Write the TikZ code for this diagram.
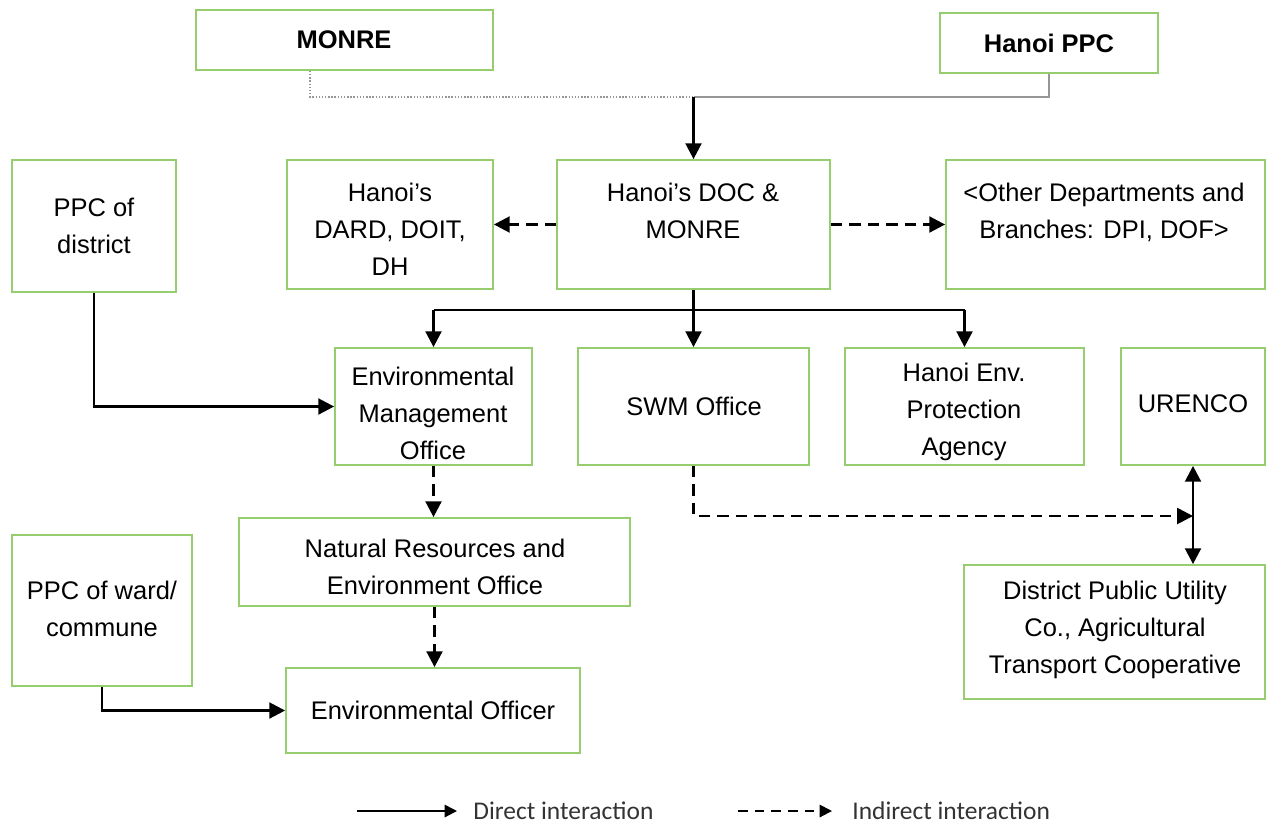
\documentclass[tikz,border=0pt]{standalone}
\usepackage{fontspec}
\setmainfont{Liberation Sans}
\newfontfamily\legendfont{Carlito}
\usetikzlibrary{arrows.meta,fit,calc}

\definecolor{boxgreen}{RGB}{150,205,110}
\definecolor{linkgray}{RGB}{150,150,150}

\begin{document}
\begin{tikzpicture}[
  x=0.02cm, y=-0.02cm,
  box/.style={draw=boxgreen,line width=1pt,inner sep=0pt,fit={#1}},
  txt/.style={align=center,inner sep=0pt,font=\fontsize{14.5}{21}\selectfont},
  head/.style={txt,font=\fontsize{14.5}{21}\selectfont\bfseries},
  lgd/.style={anchor=west,inner sep=0pt,text=black!80,font=\legendfont\fontsize{14.5}{18}\selectfont},
  direct/.style={line width=1.5pt,-{Triangle[length=9pt,width=9pt]}},
  indirect/.style={direct,dash pattern=on 6.5pt off 4pt},
  lgdline/.style={line width=1.1pt,-{Triangle[length=7pt,width=7pt]}},
  feed/.style={line width=0.8pt}
  ]
\useasboundingbox (0,0) rectangle (1266,826);

% boxes
\node[box={(196,10) (493,70)}]    (monre) {};
\node[box={(940,13) (1158,73)}]   (ppc) {};
\node[box={(12,160) (176,292)}]   (district) {};
\node[box={(287,160) (493,289)}]  (dard) {};
\node[box={(557,160) (830,289)}]  (doc) {};
\node[box={(946,160) (1265,289)}] (other) {};
\node[box={(335,348) (532,465)}]  (emo) {};
\node[box={(578,348) (809,465)}]  (swm) {};
\node[box={(845,348) (1084,465)}] (hepa) {};
\node[box={(1121,348) (1265,465)}] (urenco) {};
\node[box={(239,518) (630,606)}]  (nreo) {};
\node[box={(12,535) (192,686)}]   (ward) {};
\node[box={(286,668) (580,753)}]  (eo) {};
\node[box={(964,565) (1265,699)}] (utility) {};

% texts
\node[head] (monre-t)    at (344,40)   {MONRE};
\node[head] (ppc-t)      at (1049,43)  {Hanoi PPC};
\node[txt]  (district-t) at (94,226)   {PPC of\\district};
\node[txt]  (dard-t)     at (390,229)  {Hanoi’s\\DARD, DOIT,\\DH};
\node[txt]  (doc-t)      at (693,211)  {Hanoi’s DOC \&\\MONRE};
\node[txt]  (other-t)    at (1104,212) {<Other Departments and\\Branches: DPI, DOF>};
\node[txt]  (emo-t)      at (433,413)  {Environmental\\Management\\Office};
\node[txt]  (swm-t)      at (694,406)  {SWM Office};
\node[txt]  (hepa-t)     at (964,412)  {Hanoi Env.\\Protection\\Agency};
\node[txt]  (urenco-t)   at (1193,404) {URENCO};
\node[txt]  (nreo-t)     at (435,567)  {Natural Resources and\\Environment Office};
\node[txt]  (ward-t)     at (102,609)  {PPC of ward/\\commune};
\node[txt]  (eo-t)       at (433,710)  {Environmental Officer};
\node[txt]  (utility-t)  at (1115,630) {District Public Utility\\Co., Agricultural\\Transport Cooperative};

% connectors
\coordinate (m1)    at (310,97);
\coordinate (p1)    at (1049,97);
\coordinate (join)  at (693.5,97);
\coordinate (split) at (693.5,310);
\coordinate (tap)   at (1193,516);
\draw[linkgray,densely dotted,line width=0.8pt] (monre.south -| m1) |- (join);
\draw[linkgray,line width=1pt] (ppc.south -| p1) |- (join);
\draw[direct] (join) -- (doc.north);
\draw[indirect] (doc.west) -- (dard.east);
\draw[indirect] (doc.east) -- (other.west);
\draw[direct] (doc.south) -- (swm.north);
\draw[feed] (emo.north |- split) -- (hepa.north |- split);
\draw[direct] (emo.north |- split) -- (emo.north);
\draw[direct] (hepa.north |- split) -- (hepa.north);
\draw[direct] (district.south) |- (emo.west);
\draw[indirect] (emo.south) -- (emo.south |- nreo.north);
\draw[indirect] (nreo.south) -- (nreo.south |- eo.north);
\draw[direct] (ward.south) |- (eo.west);
\draw[indirect] (swm.south) |- (tap);
\draw[direct,{Triangle[length=9pt,width=9pt]}-{Triangle[length=9pt,width=9pt]}] (urenco.south) -- (urenco.south |- utility.north);

% legend
\node[lgd] (ldirect)   at (473,811) {Direct interaction};
\node[lgd] (lindirect) at (852,811) {Indirect interaction};
\coordinate (d1) at (357,811);
\coordinate (d2) at (738,811);
\draw[lgdline] (d1) -- ($(ldirect.west)+(-16,0)$);
\draw[lgdline,dash pattern=on 5.5pt off 4pt] (d2) -- ($(lindirect.west)+(-20,0)$);
\end{tikzpicture}
\end{document}
